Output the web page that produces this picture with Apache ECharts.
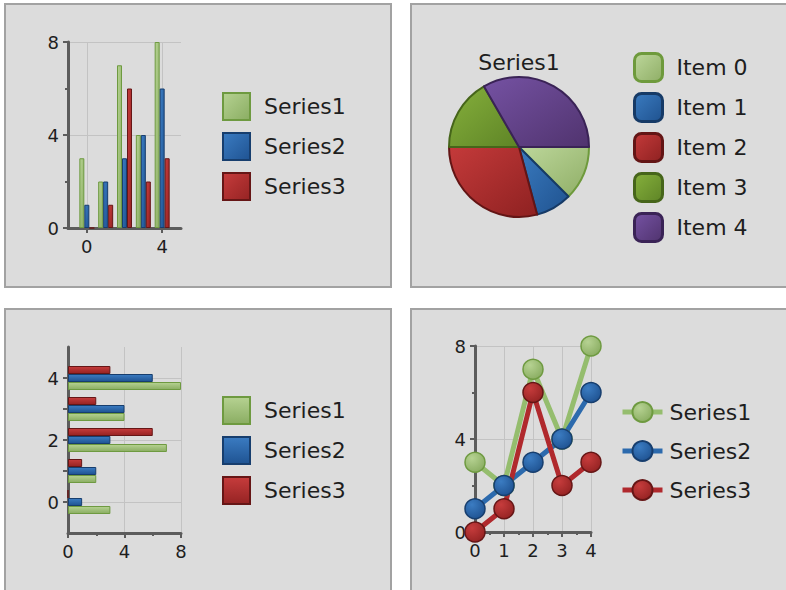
<!DOCTYPE html>
<html>
<head>
<meta charset="utf-8">
<title>Chart gallery</title>
<script src="https://cdn.jsdelivr.net/npm/echarts@6/dist/echarts.min.js"></script>
<style>
  html, body { margin: 0; padding: 0; background: #ffffff; width: 786px; height: 590px; overflow: hidden; }
  .panel { position: absolute; box-sizing: border-box; border: 2px solid #a2a2a2; background: #dcdcdc; }
  .chart { position: absolute; left: 0; top: 0; width: 786px; height: 590px; }
</style>
</head>
<body>
<div class="panel" style="left:4px;top:3px;width:388px;height:285px"></div>
<div class="panel" style="left:410px;top:3px;width:400px;height:285px"></div>
<div class="panel" style="left:4px;top:308px;width:388px;height:300px"></div>
<div class="panel" style="left:410px;top:308px;width:400px;height:300px"></div>
<div id="columns" class="chart"></div>
<div id="pie" class="chart"></div>
<div id="rows" class="chart"></div>
<div id="lines" class="chart"></div>
<script>
// ---- data ----
const xValues = [0, 1, 2, 3, 4];
const series1 = [3, 2, 7, 4, 8];
const series2 = [1, 2, 3, 4, 6];
const series3 = [0, 1, 6, 2, 3];
const seriesNames = ['Series1', 'Series2', 'Series3'];
const pieNames = ['Item 0', 'Item 1', 'Item 2', 'Item 3', 'Item 4'];
const barCategories = ['-1', '0', '1', '2', '3', '4', '5'];
const columnLabels = ['0', '4'];
const rowLabels = ['0', '2', '4'];
const rowTicks = ['0', '1', '2', '3', '4'];

// ---- styles ----
const allSeries = [series1, series2, series3];
const FONT = '"DejaVu Sans", Verdana, sans-serif';
const palette = [
  { light: '#b6d292', dark: '#8aad62', border: '#6e9a40', line: '#95bd6e' },
  { light: '#3b7cc2', dark: '#1f5392', border: '#173e6e', line: '#2c6aad' },
  { light: '#c63c3c', dark: '#952323', border: '#661616', line: '#b0292d' }
];
const piePalette = [
  { light: '#bdd79b', dark: '#8fae66', border: '#6e9a3c' },
  { light: '#3a7bc0', dark: '#1f528f', border: '#163a66' },
  { light: '#c43a3a', dark: '#8e2121', border: '#631515' },
  { light: '#86b03c', dark: '#5e8426', border: '#46651a' },
  { light: '#7552a3', dark: '#50336e', border: '#3a2356' }
];

function linear(c, horizontal) {
  return new echarts.graphic.LinearGradient(0, 0, horizontal ? 0 : 1, 1, [
    { offset: 0, color: c.light }, { offset: 1, color: c.dark }
  ]);
}
function radial(c) {
  return new echarts.graphic.RadialGradient(0.35, 0.3, 0.75, [
    { offset: 0, color: c.light }, { offset: 1, color: c.dark }
  ]);
}

const axisLine = { show: true, lineStyle: { color: '#5c5c5c', width: 3 } };
const axisTick = { show: true, length: 5, lineStyle: { color: '#5c5c5c', width: 2 } };
const minorTick = { show: true, splitNumber: 2, length: 3, lineStyle: { color: '#5c5c5c', width: 2 } };
const gridLine = { show: true, lineStyle: { color: '#c3c3c3', width: 1 } };
const tickLabel = { color: '#1e1e1e', fontFamily: FONT, fontSize: 18, margin: 9 };
const legendText = { fontFamily: FONT, fontSize: 22, lineHeight: 24, color: '#1e1e1e' };

function pick(list) { return function (i, v) { return list.indexOf(String(v)) >= 0; }; }

// ---- column chart ----
echarts.init(document.getElementById('columns'), null, { renderer: 'svg' }).setOption({
  animation: false,
  grid: { left: 68, top: 42, width: 113, height: 186 },
  xAxis: {
    type: 'category', data: barCategories, boundaryGap: false,
    axisLine: axisLine,
    axisTick: Object.assign({}, axisTick, { interval: pick(columnLabels) }),
    axisLabel: Object.assign({}, tickLabel, { interval: pick(columnLabels) }),
    splitLine: Object.assign({}, gridLine, { interval: pick(columnLabels) })
  },
  yAxis: {
    type: 'value', min: 0, max: 8, interval: 4,
    axisLine: axisLine, axisTick: axisTick, minorTick: minorTick,
    axisLabel: tickLabel, splitLine: gridLine
  },
  legend: {
    orient: 'vertical', left: 222, top: 92, padding: 0,
    itemWidth: 27, itemHeight: 27, itemGap: 11, icon: 'rect', selectedMode: false,
    itemStyle: { borderWidth: 2 },
    textStyle: Object.assign({}, legendText, { padding: [0, 0, 0, 9] }),
    data: seriesNames
  },
  series: allSeries.map(function (vals, i) {
    return {
      type: 'bar', name: seriesNames[i], barWidth: 5, barGap: '0%',
      data: xValues.map(function (x, k) { return [String(x), vals[k]]; }),
      itemStyle: { color: linear(palette[i], false), borderColor: palette[i].border, borderWidth: 1 }
    };
  })
});

// ---- pie chart ----
echarts.init(document.getElementById('pie'), null, { renderer: 'svg' }).setOption({
  animation: false,
  graphic: [{
    type: 'text', x: 519, y: 62,
    style: { text: seriesNames[0], align: 'center', verticalAlign: 'middle', font: '22px ' + FONT, fill: '#1e1e1e' }
  }],
  legend: {
    orient: 'vertical', left: 633, top: 52, padding: 0,
    itemWidth: 28, itemHeight: 28, itemGap: 9, icon: 'roundRect', selectedMode: false,
    itemStyle: { borderWidth: 3 },
    textStyle: Object.assign({}, legendText, { padding: [0, 0, 0, 9] }),
    data: pieNames
  },
  series: [{
    type: 'pie', name: seriesNames[0], center: [519, 147], radius: 70,
    startAngle: 0, clockwise: true,
    label: { show: false }, labelLine: { show: false },
    emphasis: { disabled: true },
    data: pieNames.map(function (n, k) {
      return {
        name: n, value: series1[k],
        itemStyle: { color: linear(piePalette[k], false), borderColor: piePalette[k].border, borderWidth: 2 }
      };
    })
  }]
});

// ---- row chart (series listed last-first so Series1 sits at the bottom of each group) ----
echarts.init(document.getElementById('rows'), null, { renderer: 'svg' }).setOption({
  animation: false,
  grid: { left: 68, top: 347, width: 113, height: 186 },
  xAxis: {
    type: 'value', min: 0, max: 8, interval: 4,
    axisLine: axisLine, axisTick: axisTick, minorTick: minorTick,
    axisLabel: tickLabel, splitLine: gridLine
  },
  yAxis: {
    type: 'category', data: barCategories, boundaryGap: false,
    axisLine: axisLine,
    axisTick: Object.assign({}, axisTick, { interval: pick(rowTicks) }),
    axisLabel: Object.assign({}, tickLabel, { interval: pick(rowLabels) }),
    splitLine: Object.assign({}, gridLine, { interval: pick(rowLabels) })
  },
  legend: {
    orient: 'vertical', left: 222, top: 396, padding: 0,
    itemWidth: 27, itemHeight: 27, itemGap: 11, icon: 'rect', selectedMode: false,
    itemStyle: { borderWidth: 2 },
    textStyle: Object.assign({}, legendText, { padding: [0, 0, 0, 9] }),
    data: seriesNames
  },
  series: allSeries.map(function (vals, i) {
    return {
      type: 'bar', name: seriesNames[i], barWidth: 8, barGap: '0%',
      data: xValues.map(function (y, k) { return [vals[k], String(y)]; }),
      itemStyle: { color: linear(palette[i], true), borderColor: palette[i].border, borderWidth: 1 }
    };
  }).reverse()
});

// ---- line chart ----
echarts.init(document.getElementById('lines'), null, { renderer: 'svg' }).setOption({
  animation: false,
  grid: { left: 475, top: 346, width: 116, height: 186 },
  xAxis: {
    type: 'value', min: 0, max: 4, interval: 1,
    axisLine: axisLine, axisTick: axisTick, minorTick: minorTick,
    axisLabel: tickLabel, splitLine: gridLine
  },
  yAxis: {
    type: 'value', min: 0, max: 8, interval: 4,
    axisLine: axisLine, axisTick: axisTick, minorTick: minorTick,
    axisLabel: tickLabel, splitLine: gridLine
  },
  legend: {
    orient: 'vertical', left: 620, top: 400, padding: 0,
    itemWidth: 40, itemHeight: 25, itemGap: 15, selectedMode: false,
    lineStyle: { width: 5 },
    textStyle: Object.assign({}, legendText, { padding: [0, 0, 0, 2] }),
    data: seriesNames
  },
  series: allSeries.map(function (vals, i) {
    return {
      type: 'line', name: seriesNames[i],
      symbol: 'circle', symbolSize: 20,
      data: xValues.map(function (x, k) { return [x, vals[k]]; }),
      lineStyle: { color: palette[i].line, width: 5 },
      itemStyle: { color: radial(palette[i]), borderColor: palette[i].border, borderWidth: 1.5 }
    };
  })
});
</script>
</body>
</html>
